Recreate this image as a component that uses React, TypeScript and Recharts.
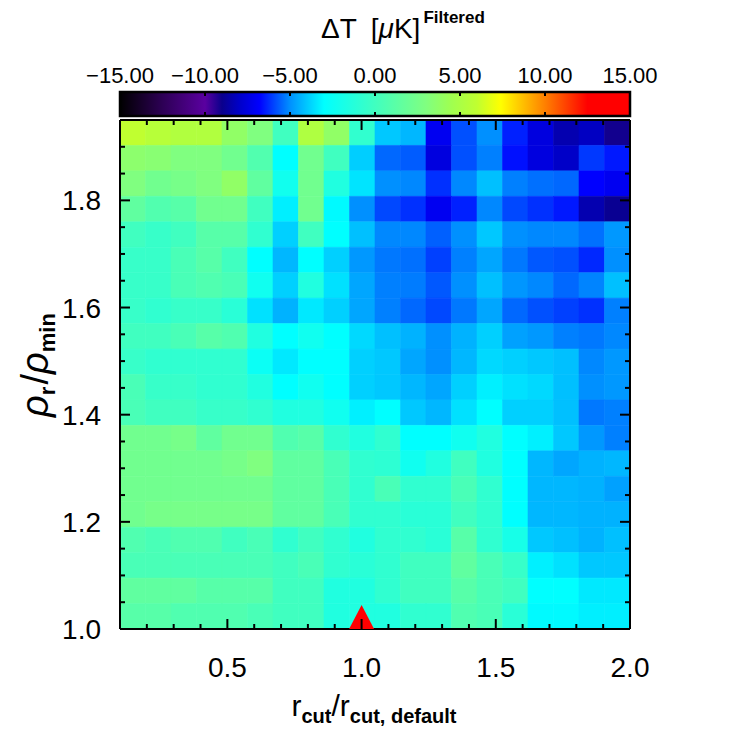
import React from 'react';
import { ScatterChart, Scatter, XAxis, YAxis, ReferenceArea } from 'recharts';

const FONT = '"Liberation Sans", Arial, Helvetica, sans-serif';

// plot extent and grid of the map (20 x 20 cells)
const xRange = [0.1, 2.0];
const yRange = [1.0, 1.95];
const nCols = 20;
const nRows = 20;

const xTicks = [0.2, 0.3, 0.4, 0.5, 0.6, 0.7, 0.8, 0.9, 1.0, 1.1, 1.2, 1.3, 1.4, 1.5, 1.6, 1.7, 1.8, 1.9, 2.0];
const yTicks = [1.0, 1.05, 1.1, 1.15, 1.2, 1.25, 1.3, 1.35, 1.4, 1.45, 1.5, 1.55, 1.6, 1.65, 1.7, 1.75, 1.8, 1.85, 1.9, 1.95];
const cbarTicks = [-15, -10, -5, 0, 5, 10, 15];

// colour table (value -> colour)
const cmapValues = [-15, -12.5, -10, -9, -8, -6.8, -5, -4, -3, -1.5, 0, 1.5, 3, 4.5, 6, 7.4, 10, 12.5, 15];
const cmapColors = [
  '#000000', '#2d0055', '#5a00a0', '#0a008c', '#0000c8', '#0000ff', '#0090ff', '#00c8ff', '#00ffff',
  '#20ffe0', '#40ffc0', '#60ffa0', '#80ff80', '#a0ff50', '#c0ff30', '#ffff00', '#ff8000', '#ff0000', '#ff0000',
];

// Delta T [muK], rows from top (rho ~1.95) to bottom (rho = 1.0), columns from r = 0.1 to 2.0
const deltaT: number[][] = [
  [6.0, 5.6, 5.3, 5.3, 3.8, 3.0, 0.0, 5.2, 3.8, -0.7, -4.0, -4.3, -7.1, -5.8, -5.0, -6.4, -7.5, -8.4, -8.1, -9.1],
  [3.6, 3.4, 3.0, 3.0, 2.3, 0.8, -3.0, 2.3, 0.0, -3.9, -5.5, -5.65, -7.5, -5.8, -5.2, -6.6, -7.5, -8.0, -6.1, -6.5],
  [3.0, 2.3, 2.6, 3.0, 3.8, 1.5, -2.2, 2.3, -1.5, -3.5, -5.0, -5.1, -6.2, -5.1, -4.15, -5.2, -5.4, -5.5, -6.8, -7.1],
  [1.5, 0.8, 1.1, 2.3, 2.3, 0.0, -3.3, 2.3, -3.1, -5.0, -5.9, -6.2, -7.1, -6.4, -5.1, -5.9, -6.2, -6.5, -8.4, -8.9],
  [0.0, -0.4, 0.0, 1.1, 1.1, -0.75, -3.85, 0.0, -3.0, -4.15, -5.1, -5.1, -5.6, -5.0, -4.0, -5.0, -5.1, -5.1, -5.4, -4.86],
  [-0.4, -0.4, 0.4, 1.1, 0.0, -3.0, -4.3, -3.0, -3.85, -4.86, -5.3, -5.4, -6.0, -5.2, -4.6, -5.3, -5.7, -5.8, -6.3, -5.0],
  [-0.4, -0.4, 0.4, 0.75, 0.4, -2.25, -3.85, -1.5, -3.55, -4.6, -5.2, -5.25, -5.7, -5.0, -4.15, -4.9, -5.1, -5.5, -5.15, -4.15],
  [-0.4, -0.75, -0.4, -0.4, -1.1, -3.55, -4.4, -3.4, -3.85, -4.6, -5.2, -5.5, -5.9, -5.3, -4.6, -5.5, -5.8, -6.0, -6.2, -5.2],
  [0.0, 0.0, 0.4, 1.1, 0.75, -1.5, -3.0, -2.25, -3.0, -3.7, -4.15, -4.4, -5.0, -4.4, -3.85, -4.7, -4.86, -5.2, -5.3, -5.1],
  [-0.4, -0.75, -0.75, -0.75, -0.75, -2.5, -3.4, -3.0, -3.0, -3.85, -4.0, -4.6, -5.0, -4.3, -3.7, -3.85, -4.0, -4.15, -5.1, -4.86],
  [0.4, -0.4, -0.4, -0.75, -0.75, -1.5, -3.0, -2.25, -3.0, -3.85, -4.0, -4.3, -4.6, -3.85, -3.27, -3.55, -3.7, -4.15, -5.0, -4.86],
  [0.4, 0.0, 0.0, -0.4, -0.4, -0.75, -1.5, -1.5, -2.25, -3.27, -3.0, -4.0, -4.3, -3.55, -3.0, -3.85, -3.85, -4.15, -5.3, -5.2],
  [2.3, 2.3, 2.6, 1.5, 2.3, 2.3, 0.75, 1.1, -0.75, -1.5, -0.75, -3.0, -3.0, -2.25, -1.5, -3.0, -3.27, -4.0, -4.86, -5.2],
  [2.3, 2.3, 2.3, 2.3, 2.6, 3.0, 1.5, 1.5, 0.4, -0.75, -0.9, -2.25, -1.5, 0.0, -1.5, -3.0, -4.3, -4.6, -4.4, -4.3],
  [2.3, 2.3, 2.3, 2.3, 2.3, 2.3, 1.5, 1.5, 0.4, -0.75, 0.4, -0.75, -0.75, 0.4, -0.75, -3.0, -4.3, -4.3, -4.4, -4.7],
  [2.3, 2.6, 2.6, 2.6, 2.6, 2.6, 1.5, 1.5, 0.4, -0.75, -0.75, -1.1, -1.1, 0.0, -0.75, -3.0, -4.3, -4.3, -4.4, -4.4],
  [0.75, 0.4, 0.75, 0.75, 0.0, 0.4, -0.75, 0.0, -0.75, -1.5, -0.75, -0.75, -1.1, 1.1, -0.75, -1.9, -4.0, -4.15, -4.4, -4.15],
  [0.4, 0.4, 0.4, 0.4, 0.4, 0.4, 0.0, 0.4, -0.75, -1.1, -0.75, 0.0, 0.0, 1.5, 0.4, -0.4, -3.27, -3.55, -4.0, -4.0],
  [1.5, 1.5, 1.5, 1.1, 1.1, 1.1, 0.0, 0.0, -1.5, -1.5, -0.75, 0.0, 0.0, 1.1, 0.4, 0.0, -3.0, -3.0, -3.4, -3.4],
  [1.1, 1.1, 0.75, 0.75, 0.75, 0.4, 0.0, 0.0, -1.5, -1.5, -1.5, -0.75, -0.75, 0.75, 0.4, -1.1, -3.1, -3.1, -3.3, -3.3],
];

// default setting marker
const marker = [{ x: 1.0, y: 1.0 }];

const hexToRgb = (h: string) => [1, 3, 5].map((i) => parseInt(h.slice(i, i + 2), 16));

const colorFor = (v: number) => {
  if (v <= cmapValues[0]) return cmapColors[0];
  for (let i = 1; i < cmapValues.length; i++) {
    if (v <= cmapValues[i]) {
      const t = (v - cmapValues[i - 1]) / (cmapValues[i] - cmapValues[i - 1]);
      const a = hexToRgb(cmapColors[i - 1]);
      const b = hexToRgb(cmapColors[i]);
      return `rgb(${a.map((c, k) => Math.round(c + (b[k] - c) * t)).join(',')})`;
    }
  }
  return cmapColors[cmapColors.length - 1];
};

const dx = (xRange[1] - xRange[0]) / nCols;
const dy = (yRange[1] - yRange[0]) / nRows;

const cells = deltaT.flatMap((row, r) =>
  row.map((v, c) => ({
    x1: xRange[0] + c * dx,
    x2: xRange[0] + (c + 1) * dx,
    y2: yRange[1] - r * dy,
    y1: yRange[1] - (r + 1) * dy,
    color: colorFor(v),
  }))
);

const isMajorX = (v: number) => Math.abs(v * 2 - Math.round(v * 2)) < 1e-6;
const isMajorY = (v: number) => Math.abs(v * 5 - Math.round(v * 5)) < 1e-6;

const BottomTick = (props: any) => {
  const { x, y, payload } = props;
  const major = isMajorX(payload.value);
  return (
    <g>
      <line x1={x} x2={x} y1={y} y2={y - (major ? 10 : 5)} stroke="#000" strokeWidth={2} />
      {major && (
        <text x={x} y={y + 48} textAnchor="middle" fontSize={28} fontFamily={FONT} fill="#000">
          {payload.value.toFixed(1)}
        </text>
      )}
    </g>
  );
};

const TopTick = (props: any) => {
  const { x, y, payload } = props;
  const major = isMajorX(payload.value);
  return <line x1={x} x2={x} y1={y} y2={y + (major ? 10 : 5)} stroke="#000" strokeWidth={2} />;
};

const LeftTick = (props: any) => {
  const { x, y, payload } = props;
  const major = isMajorY(payload.value);
  return (
    <g>
      <line x1={x} x2={x + (major ? 10 : 5)} y1={y} y2={y} stroke="#000" strokeWidth={2} />
      {major && (
        <text x={x - 19} y={y + 10} textAnchor="end" fontSize={28} fontFamily={FONT} fill="#000">
          {payload.value.toFixed(1)}
        </text>
      )}
    </g>
  );
};

const RightTick = (props: any) => {
  const { x, y, payload } = props;
  const major = isMajorY(payload.value);
  return <line x1={x} x2={x - (major ? 10 : 5)} y1={y} y2={y} stroke="#000" strokeWidth={2} />;
};

const CbarTick = (props: any) => {
  const { x, y, payload } = props;
  const v: number = payload.value;
  const label = v < 0 ? '\u2212' + Math.abs(v).toFixed(2) : v.toFixed(2);
  return (
    <g>
      <line x1={x} x2={x} y1={y} y2={y + 4} stroke="#000" strokeWidth={2} />
      <line x1={x} x2={x} y1={y + 24} y2={y + 20} stroke="#000" strokeWidth={2} />
      <text x={x} y={y - 9} textAnchor="middle" fontSize={22} fontFamily={FONT} fill="#000">
        {label}
      </text>
    </g>
  );
};

const Triangle = (props: any) => {
  const { cx, cy } = props;
  return <polygon points={`${cx - 12.5},${cy} ${cx + 12.5},${cy} ${cx},${cy - 24}`} fill="#ff0000" />;
};

const Nothing = () => <g />;

const ColorBar: React.FC = () => (
  <ScatterChart width={750} height={125} margin={{ top: 62, right: 120, bottom: 9, left: 120 }}>
    <defs>
      <linearGradient id="cbarGrad" x1="0" x2="1" y1="0" y2="0">
        {cmapValues.map((v, i) => (
          <stop key={i} offset={(v - cbarTicks[0]) / (cbarTicks[cbarTicks.length - 1] - cbarTicks[0])} stopColor={cmapColors[i]} />
        ))}
      </linearGradient>
    </defs>
    <XAxis
      xAxisId="c"
      orientation="top"
      type="number"
      dataKey="v"
      domain={[-15, 15]}
      allowDataOverflow
      ticks={cbarTicks}
      tick={<CbarTick />}
      tickSize={0}
      tickMargin={0}
      tickLine={false}
      axisLine={false}
      interval={0}
    />
    <YAxis yAxisId="c" type="number" dataKey="y" domain={[0, 1]} hide />
    <ReferenceArea
      xAxisId="c"
      yAxisId="c"
      x1={-15}
      x2={15}
      y1={0}
      y2={1}
      fill="url(#cbarGrad)"
      fillOpacity={1}
      stroke="#000"
      strokeWidth={2.5}
    />
    <Scatter
      xAxisId="c"
      yAxisId="c"
      data={cmapValues.map((v) => ({ v, y: 0.5 }))}
      shape={<Nothing />}
      isAnimationActive={false}
    />
  </ScatterChart>
);

const App: React.FC = () => {
  return (
    <div style={{ position: 'absolute', left: 0, top: 0, width: 750, height: 750, background: '#fff' }}>
      <div style={{ position: 'absolute', left: 0, top: 0 }}>
        <ScatterChart width={750} height={750} margin={{ top: 90, right: 60, bottom: 91, left: 60 }}>
          {cells.map((c, i) => (
            <ReferenceArea
              key={i}
              xAxisId="b"
              yAxisId="l"
              x1={c.x1}
              x2={c.x2}
              y1={c.y1}
              y2={c.y2}
              fill={c.color}
              fillOpacity={1}
              stroke={c.color}
              strokeWidth={0.6}
            />
          ))}
          <Scatter xAxisId="b" yAxisId="l" data={marker} shape={<Triangle />} isAnimationActive={false} />
          <Scatter xAxisId="t" yAxisId="r" data={marker} shape={<Nothing />} isAnimationActive={false} />
          <XAxis
            xAxisId="b"
            orientation="bottom"
            type="number"
            dataKey="x"
            domain={xRange}
            allowDataOverflow
            ticks={xTicks}
            interval={0}
            tick={<BottomTick />}
            tickSize={0}
            tickMargin={0}
            tickLine={false}
            axisLine={{ stroke: '#000', strokeWidth: 2 }}
          />
          <XAxis
            xAxisId="t"
            orientation="top"
            type="number"
            dataKey="x"
            domain={xRange}
            allowDataOverflow
            ticks={xTicks}
            interval={0}
            tick={<TopTick />}
            tickSize={0}
            tickMargin={0}
            tickLine={false}
            axisLine={{ stroke: '#000', strokeWidth: 2 }}
          />
          <YAxis
            yAxisId="l"
            orientation="left"
            type="number"
            dataKey="y"
            domain={yRange}
            allowDataOverflow
            ticks={yTicks}
            interval={0}
            tick={<LeftTick />}
            tickSize={0}
            tickMargin={0}
            tickLine={false}
            axisLine={{ stroke: '#000', strokeWidth: 2 }}
          />
          <YAxis
            yAxisId="r"
            orientation="right"
            type="number"
            dataKey="y"
            domain={yRange}
            allowDataOverflow
            ticks={yTicks}
            interval={0}
            tick={<RightTick />}
            tickSize={0}
            tickMargin={0}
            tickLine={false}
            axisLine={{ stroke: '#000', strokeWidth: 2 }}
          />
        </ScatterChart>
      </div>
      <div style={{ position: 'absolute', left: 0, top: 0 }}>
        <ColorBar />
      </div>
      <svg width={750} height={750} style={{ position: 'absolute', left: 0, top: 0, pointerEvents: 'none' }}>
        <text x={321} y={38} fontFamily={FONT} fontSize={28} fill="#000">
          <tspan>ΔT</tspan>
          <tspan dx={14}>[</tspan>
          <tspan fontStyle="italic">μ</tspan>
          <tspan>K]</tspan>
          <tspan dx={3} dy={-15} fontSize={17} fontWeight="bold">Filtered</tspan>
        </text>
        <text x={374} y={716} textAnchor="middle" fontFamily={FONT} fontSize={30} fill="#000">
          <tspan>r</tspan>
          <tspan dy={7} fontSize={20} fontWeight="bold">cut</tspan>
          <tspan dy={-7}>/r</tspan>
          <tspan dy={7} fontSize={20} fontWeight="bold">cut, default</tspan>
        </text>
        <text
          x={48}
          y={365}
          transform="rotate(-90, 48, 365)"
          textAnchor="middle"
          fontFamily={FONT}
          fontSize={38}
          fill="#000"
        >
          <tspan fontStyle="italic">ρ</tspan>
          <tspan dy={7} fontSize={22} fontWeight="bold">r</tspan>
          <tspan dy={-7} dx={2}>/</tspan>
          <tspan fontStyle="italic">ρ</tspan>
          <tspan dy={7} fontSize={22} fontWeight="bold">min</tspan>
        </text>
      </svg>
    </div>
  );
};

export default App;
